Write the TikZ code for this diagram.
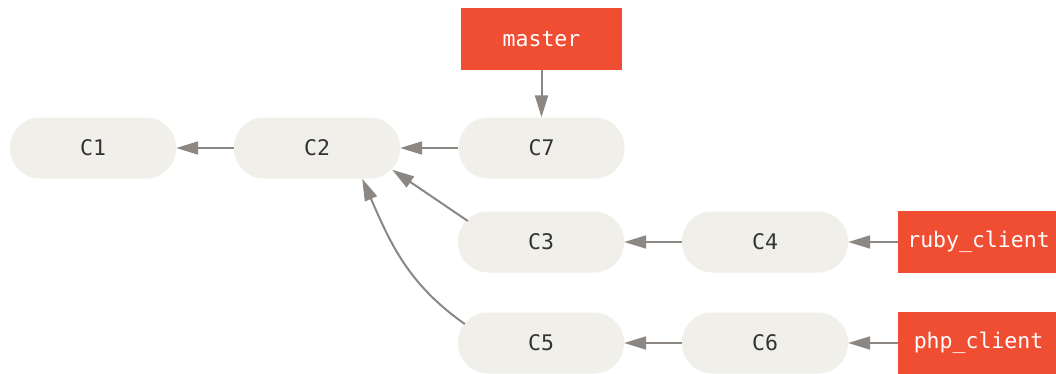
\documentclass[tikz,border=0pt]{standalone}
\usepackage{fontspec}
\setmonofont{DejaVu Sans Mono}
\usetikzlibrary{arrows.meta}
\definecolor{commitfill}{HTML}{F0EFEA}
\definecolor{branchred}{HTML}{F04E32}
\definecolor{arrowgray}{HTML}{8C8782}
\definecolor{commitText}{HTML}{333333}
\begin{document}
\begin{tikzpicture}[x=1pt,y=1pt,
  commit/.style={fill=commitfill, draw=none, rounded corners=30pt, minimum width=166pt, minimum height=61pt, inner sep=0pt, text=commitText, font=\ttfamily\fontsize{21.5}{25}\selectfont},
  branch/.style={fill=branchred, draw=none, minimum width=161pt, minimum height=62pt, inner sep=0pt, text=white, font=\ttfamily\fontsize{21.5}{25}\selectfont},
  link/.style={draw=arrowgray, line width=2pt, -{Triangle[length=22pt,width=13pt]}}]
\path[use as bounding box, clip] (0,0) rectangle (1056,373);
\fill[white] (0,0) rectangle (1056,373);
\node[commit] (C1) at (93,225) {C1};
\node[commit] (C2) at (317,225) {C2};
\node[commit] (C7) at (541.5,225) {C7};
\node[commit] (C3) at (541,131) {C3};
\node[commit] (C4) at (765,131) {C4};
\node[commit] (C5) at (541,30) {C5};
\node[commit] (C6) at (765,30) {C6};
\node[branch] (master) at (541.5,334) {master};
\node[branch] (ruby) at (978.5,131) {ruby\_client};
\node[branch] (php) at (978.5,30) {php\_client};
\draw[link] (C2.west) -- (C1.east);
\draw[link] (C7.west) -- (C2.east);
\draw[link] (master.south) -- (C7.north);
\draw[link] (C4.west) -- (C3.east);
\draw[link] (C6.west) -- (C5.east);
\draw[link] (ruby.west) -- (C4.east);
\draw[link] (php.west) -- (C6.east);
\draw[link] ([shift={(10pt,21pt)}]C3.west) -- ([shift={(-8pt,9pt)}]C2.south east);
\draw[link] ([shift={(7pt,19pt)}]C5.west) .. controls +(-57pt,40pt) and +(28pt,-64pt) .. ([shift={(-38pt,0pt)}]C2.south east);
\end{tikzpicture}
\end{document}
